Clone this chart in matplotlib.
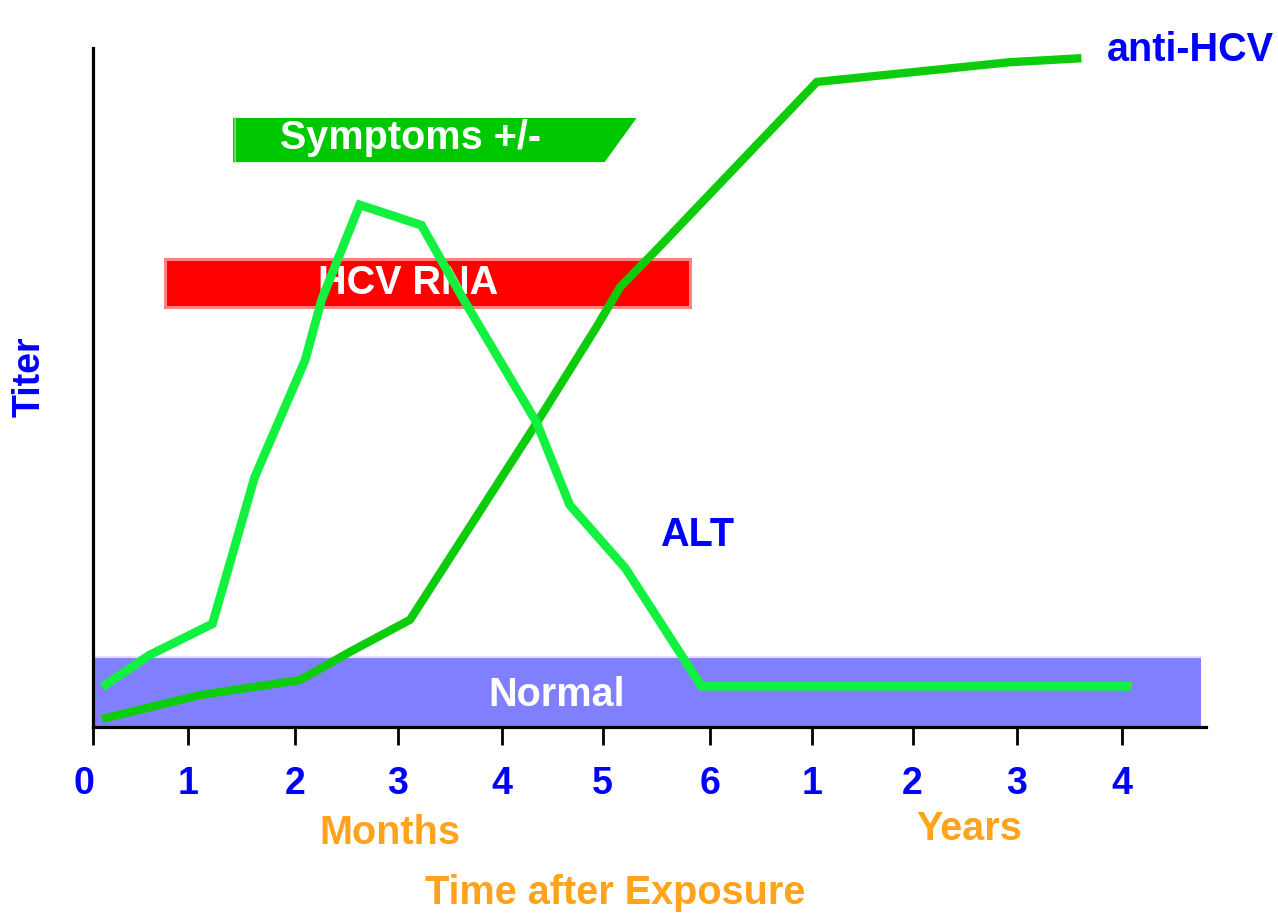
import matplotlib
matplotlib.use("Agg")
import matplotlib.pyplot as plt
from matplotlib.patches import Polygon, Rectangle
from matplotlib.transforms import ScaledTranslation

# time axis: months 0-6, then years 1-4 (positions on a shared scale)
tick_pos = [0, 0.92, 1.96, 2.96, 3.97, 4.95, 5.99, 6.98, 7.96, 8.97, 9.99]
tick_labels = ["0", "1", "2", "3", "4", "5", "6", "1", "2", "3", "4"]

# ALT curve (titer, 0-100)
alt_x = [0.09, 0.55, 1.16, 1.57, 2.06, 2.22, 2.59, 3.19, 3.59, 4.31, 4.63, 5.17, 5.91, 10.09]
alt_y = [5.9, 10.6, 15.2, 36.8, 54.0, 62.9, 76.9, 73.9, 63.2, 44.8, 32.7, 23.4, 6.0, 6.0]

# anti-HCV curve
anti_x = [0.09, 1.04, 2.01, 2.50, 3.08, 4.31, 4.89, 5.12, 5.50, 7.03, 8.90, 9.60]
anti_y = [1.2, 4.7, 6.9, 11.1, 15.8, 44.8, 58.9, 64.8, 70.7, 95.0, 97.9, 98.5]

# bars
symptoms = (1.36, 5.28, 4.97, 83.2, 89.7)   # start, top end, bottom end, low, high
hcv_rna = (0.70, 5.80, 61.9, 68.9)          # start, end, low, high
normal = (0.0, 10.76, 0.0, 10.3)

BLUE = "#0000FF"
ORANGE = "#FFA21C"
FONT = "Liberation Sans"
FS = 28.5

fig = plt.figure(figsize=(12.78, 9.14), dpi=100)
ax = fig.add_axes([93 / 1278, (914 - 727) / 914, (1206 - 93) / 1278, (727 - 48) / 914])
ax.set_xlim(0, 10.81)
ax.set_ylim(0, 100)

# normal range band
x0, x1, y0, y1 = normal
ax.add_patch(Rectangle((x0, y0), x1 - x0, y1 - y0, facecolor="#8080FF", edgecolor="none", zorder=1))
ax.plot([x0, x1], [y1, y1], color="#E2E2FF", lw=1.5, zorder=1)
ax.text(4.50, 4.7, "Normal", color="white", fontsize=FS, fontweight="bold",
        family=FONT, ha="center", va="center", zorder=2)

# symptoms bar with slanted end
s0, s_top, s_bot, s_lo, s_hi = symptoms
ax.add_patch(Polygon([(s0, s_lo), (s0, s_hi), (s_top, s_hi), (s_bot, s_lo)],
                     closed=True, facecolor="#00C800", edgecolor="none", zorder=2))
ax.plot([s0 + 0.015, s0 + 0.015], [s_lo, s_hi], color="#7FE07F", lw=1.2, zorder=2)
ax.text(3.08, 86.7, "Symptoms +/-", color="white", fontsize=FS, fontweight="bold",
        family=FONT, ha="center", va="center", zorder=3)

# HCV RNA bar
r0, r1, r_lo, r_hi = hcv_rna
ax.add_patch(Rectangle((r0, r_lo), r1 - r0, r_hi - r_lo, facecolor="#FF0000",
                       edgecolor="#FF8080", lw=2.2, zorder=2))
ax.text(3.06, 65.4, "HCV RNA", color="white", fontsize=FS, fontweight="bold",
        family=FONT, ha="center", va="center", zorder=3)

# curves
ax.plot(anti_x, anti_y, color="#0CCC0C", lw=6, solid_joinstyle="miter",
        solid_capstyle="butt", zorder=4)
ax.plot(alt_x, alt_y, color="#12F040", lw=6.3, solid_joinstyle="miter",
        solid_capstyle="butt", zorder=5)

ax.text(5.87, 28.3, "ALT", color=BLUE, fontsize=FS, fontweight="bold",
        family=FONT, ha="center", va="center")
ax.text(9.85, 99.7, "anti-HCV", color=BLUE, fontsize=FS, fontweight="bold",
        family=FONT, ha="left", va="center", clip_on=False)

# axes styling
for side in ("top", "right"):
    ax.spines[side].set_visible(False)
ax.spines["left"].set_linewidth(2.3)
ax.spines["bottom"].set_linewidth(2.3)
ax.set_yticks([])
ax.set_xticks(tick_pos)
ax.set_xticklabels(tick_labels, color=BLUE, fontsize=27, fontweight="bold", family=FONT)
ax.tick_params(axis="x", length=13, width=2, pad=15, color="black")
# the leading zero sits a little left of its tick
lbl0 = ax.get_xticklabels()[0]
lbl0.set_transform(lbl0.get_transform() + ScaledTranslation(-0.09, 0, fig.dpi_scale_trans))

fig.text(30 / 1278, 1 - 377 / 914, "Titer", color=BLUE, fontsize=27, fontweight="bold",
         family=FONT, rotation=90, ha="center", va="center")
fig.text(390 / 1278, 1 - 833 / 914, "Months", color=ORANGE, fontsize=FS, fontweight="bold",
         family=FONT, ha="center", va="center")
fig.text(969 / 1278, 1 - 829 / 914, "Years", color=ORANGE, fontsize=FS, fontweight="bold",
         family=FONT, ha="center", va="center")
fig.text(615 / 1278, 1 - 893 / 914, "Time after Exposure", color=ORANGE, fontsize=FS,
         fontweight="bold", family=FONT, ha="center", va="center")

fig.savefig("out.png", dpi=100, facecolor="white")
